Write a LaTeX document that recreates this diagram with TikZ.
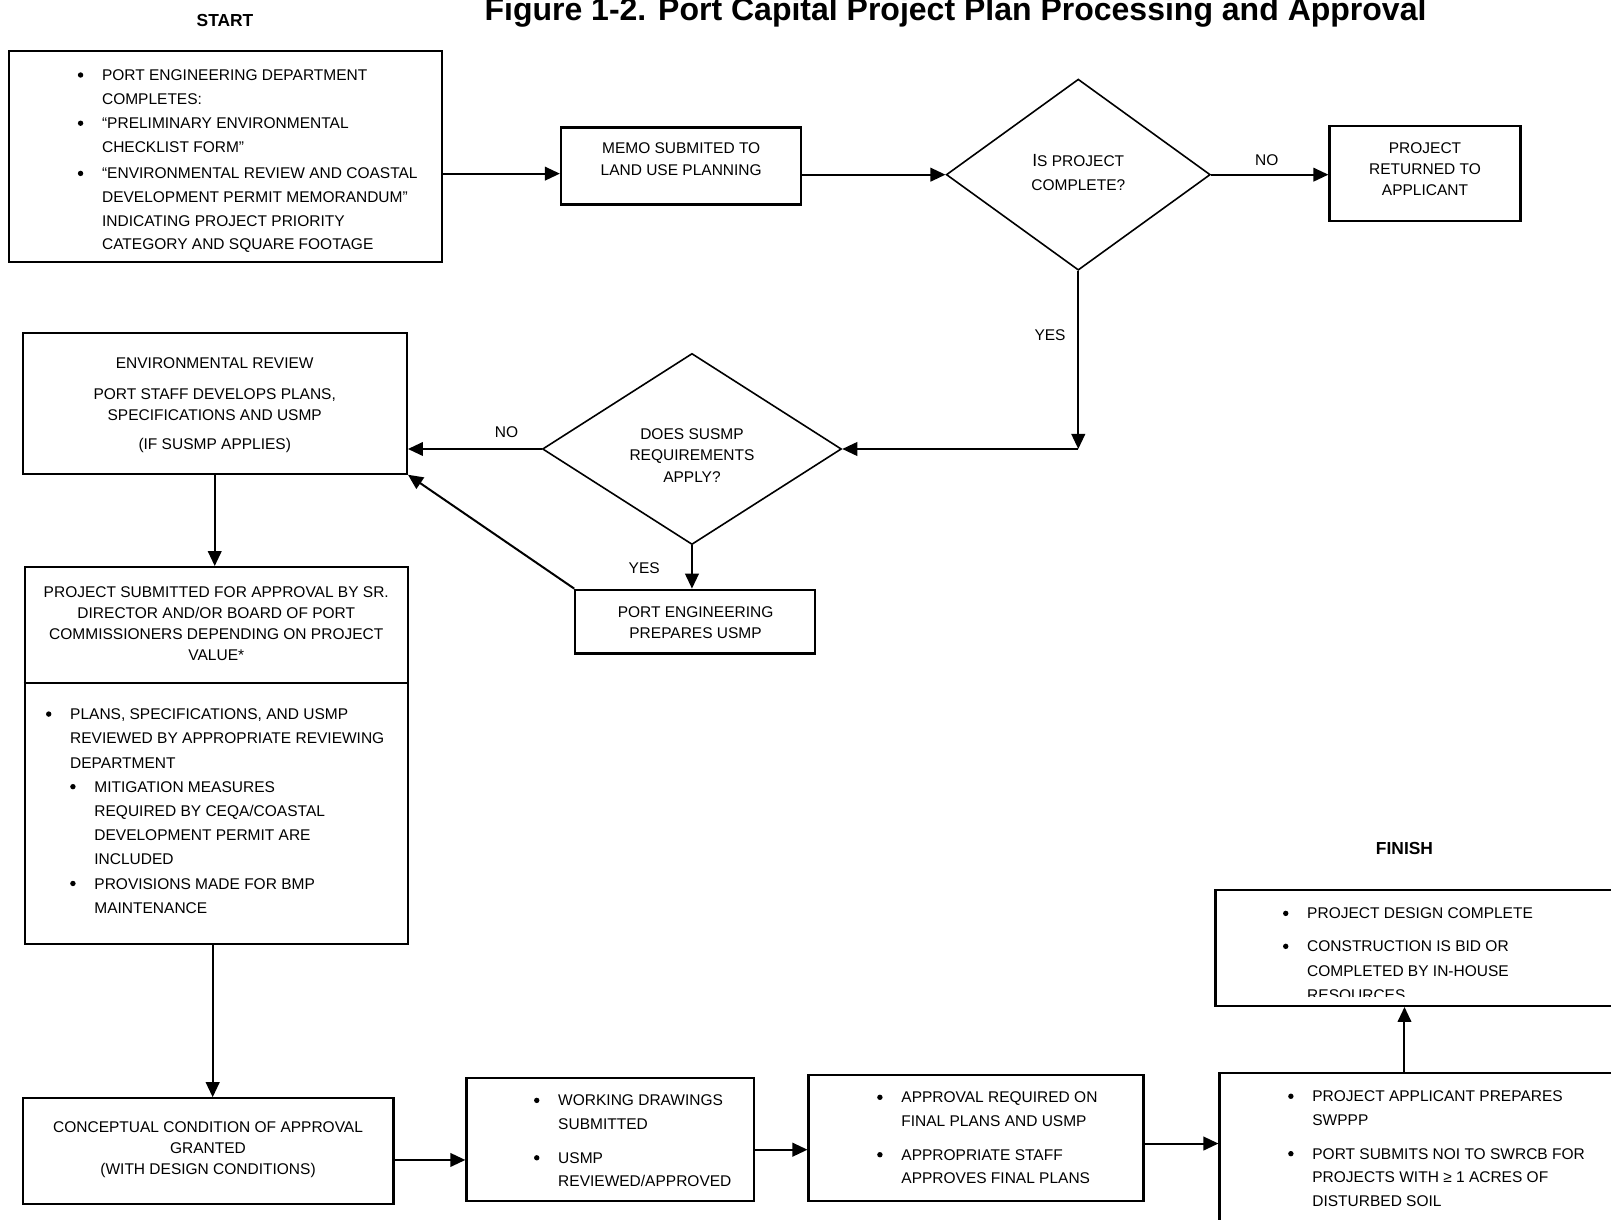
\documentclass[tikz,border=0pt]{standalone}
\usepackage{fontspec}
\setmainfont{Liberation Sans}
\usetikzlibrary{shapes.geometric,arrows.meta,fit}

% round bullet followed by a fixed gap, used in the bulleted boxes
\newcommand\bu{\makebox[12.1pt][l]{\tikz[baseline=-2.77pt]\fill (1.35pt,0pt) circle (1.35pt);}}

\begin{document}
\begin{tikzpicture}[x=0.5137pt,y=-0.5137pt,
  box/.style={draw, line width=1.1pt, inner sep=0pt},
  dia/.style={draw, diamond, line width=0.8pt, inner sep=0pt},
  arr/.style={line width=1pt, -{Triangle[length=7.5pt,width=6.8pt]}},
  txt/.style={inner sep=0pt, font=\fontsize{7.75}{#1}\selectfont},
  txt/.default=11.8pt,
  head/.style={inner sep=0pt, anchor=base, font=\bfseries\fontsize{8.7}{10}\selectfont},
]
\clip (0,0) rectangle (1568,1187);

% ---------- headings ----------
\node[inner sep=0pt, anchor=base, font=\bfseries\fontsize{16}{18}\selectfont] (title) at (930,19.5)
  {Figure 1-2. Port Capital Project Plan Processing and Approval};
\node[head] (start) at (219,26) {START};
\node[head] (finish) at (1367,832) {FINISH};

% ---------- boxes ----------
\node[box, fit={(9,50) (430,255)}] (b1) {};
\node[box, fit={(546,124) (780,199)}] (memo) {};
\node[box, fit={(1294,123) (1480,215)}] (ret) {};
\node[box, fit={(22,324) (396,461)}] (env) {};
\node[box, fit={(560,574) (793,636)}] (pe) {};
\node[box, fit={(24,552) (397,919)}] (sub) {};
\draw[line width=1.1pt] (sub.west |- 0,665) -- (sub.east |- 0,665);
\node[box, fit={(22,1069) (383,1172)}] (concept) {};
\node[box, fit={(454,1049) (734,1169)}] (work) {};
\node[box, fit={(787,1046) (1113,1169)}] (appr) {};
\node[box, fit={(1187,1044) (1620,1240)}] (swp) {};
\node[box, fit={(1183,866) (1620,979)}] (fin) {};

% ---------- decisions ----------
\node[dia, minimum width=257*0.5137pt, minimum height=186*0.5137pt] (d1) at (1049.5,170) {};
\node[dia, minimum width=291*0.5137pt, minimum height=186*0.5137pt] (d2) at (673.5,437) {};

% ---------- texts ----------
\node[txt, anchor=base west] (b1t) at (75.4,78.4) {\begin{tabular}[t]{@{}l@{}l@{}}
\bu & PORT ENGINEERING DEPARTMENT\\
    & COMPLETES:\\[0.5pt]
\bu & “PRELIMINARY ENVIRONMENTAL\\
    & CHECKLIST FORM”\\[1.5pt]
\bu & “ENVIRONMENTAL REVIEW AND COASTAL\\
    & DEVELOPMENT PERMIT MEMORANDUM”\\
    & INDICATING PROJECT PRIORITY\\
    & CATEGORY AND SQUARE FOOTAGE
\end{tabular}};

\node[txt=10.8pt, anchor=base] (memot) at (663,149.4) {\begin{tabular}[t]{@{}c@{}}
MEMO SUBMITED TO\\ LAND USE PLANNING\end{tabular}};

\node[txt=11.8pt, anchor=base] (d1t) at (1049.5,162.4) {\begin{tabular}[t]{@{}c@{}}
{\fontsize{8.8}{11.8}\selectfont I}S PROJECT\\ COMPLETE?\end{tabular}};

\node[txt=10.5pt, anchor=base] (rett) at (1387,149.4) {\begin{tabular}[t]{@{}c@{}}
PROJECT\\ RETURNED TO\\ APPLICANT\end{tabular}};

\node[txt=10.8pt, anchor=base] (d2t) at (673.5,427.4) {\begin{tabular}[t]{@{}c@{}}
DOES SUSMP\\ REQUIREMENTS\\ APPLY?\end{tabular}};

\node[txt=10.8pt, anchor=base] (envt) at (209,358.4) {\begin{tabular}[t]{@{}c@{}}
ENVIRONMENTAL REVIEW\\[4.6pt]
PORT STAFF DEVELOPS PLANS,\\
SPECIFICATIONS AND USMP\\[3.6pt]
(IF SUSMP APPLIES)\end{tabular}};

\node[txt=10.3pt, anchor=base] (pet) at (677,601.4) {\begin{tabular}[t]{@{}c@{}}
PORT ENGINEERING\\ PREPARES USMP\end{tabular}};

\node[txt=10.45pt, anchor=base] (subt) at (210.5,581.4) {\begin{tabular}[t]{@{}c@{}}
PROJECT SUBMITTED FOR APPROVAL BY SR.\\
DIRECTOR AND/OR BOARD OF PORT\\
COMMISSIONERS DEPENDING ON PROJECT\\
VALUE*\end{tabular}};

\node[txt=12.1pt, anchor=base west] (subl) at (44.4,700.4) {\begin{tabular}[t]{@{}l@{}l@{}l@{}}
\bu & \multicolumn{2}{@{}l@{}}{PLANS, SPECIFICATIONS, AND USMP}\\
    & \multicolumn{2}{@{}l@{}}{REVIEWED BY APPROPRIATE REVIEWING}\\
    & \multicolumn{2}{@{}l@{}}{DEPARTMENT}\\
    & \bu & MITIGATION MEASURES\\
    &     & REQUIRED BY CEQA/COASTAL\\
    &     & DEVELOPMENT PERMIT ARE\\
    &     & INCLUDED\\
    & \bu & PROVISIONS MADE FOR BMP\\
    &     & MAINTENANCE
\end{tabular}};

\node[txt=10.5pt, anchor=base] (conceptt) at (202.5,1102.4) {\begin{tabular}[t]{@{}c@{}}
CONCEPTUAL CONDITION OF APPROVAL\\ GRANTED\\ (WITH DESIGN CONDITIONS)\end{tabular}};

\node[txt=11.8pt, anchor=base west] (workt) at (519.4,1076.4) {\begin{tabular}[t]{@{}l@{}l@{}}
\bu & WORKING DRAWINGS\\
    & SUBMITTED\\[5.1pt]
\bu & USMP\\
    & REVIEWED/APPROVED
\end{tabular}};

\node[txt=11.8pt, anchor=base west] (apprt) at (853.4,1073.4) {\begin{tabular}[t]{@{}l@{}l@{}}
\bu & APPROVAL REQUIRED ON\\
    & FINAL PLANS AND USMP\\[5.1pt]
\bu & APPROPRIATE STAFF\\
    & APPROVES FINAL PLANS
\end{tabular}};

\node[txt=11.8pt, anchor=base west] (swpt) at (1253.4,1072.4) {\begin{tabular}[t]{@{}l@{}l@{}}
\bu & PROJECT APPLICANT PREPARES\\
    & SWPPP\\[5.1pt]
\bu & PORT SUBMITS NOI TO SWRCB FOR\\
    & PROJECTS WITH ≥ 1 ACRES OF\\
    & DISTURBED SOIL
\end{tabular}};

\begin{scope}
  \clip (1183,860) rectangle (1568,970);
  \node[txt=12.07pt, anchor=base west] (fint) at (1248.4,894.4) {\begin{tabular}[t]{@{}l@{}l@{}}
  \bu & PROJECT DESIGN COMPLETE\\[4.4pt]
  \bu & CONSTRUCTION IS BID OR\\
      & COMPLETED BY IN-HOUSE\\
      & RESOURCES
  \end{tabular}};
\end{scope}

% ---------- branch labels ----------
\node[txt, anchor=base] (no1) at (1233,161.4) {NO};
\node[txt, anchor=base] (yes1) at (1022,331.4) {YES};
\node[txt, anchor=base] (no2) at (493,425.4) {NO};
\node[txt, anchor=base] (yes2) at (627,558.4) {YES};

% ---------- connectors ----------
\coordinate (j) at (1049.5,437);
\draw[arr] (b1.east |- 0,169) -- (memo.west |- 0,169);
\draw[arr] (memo.east |- d1.west) -- (d1.west);
\draw[arr] (d1.east) -- (ret.west |- d1.east);
\draw[arr] (d1.south) -- (j);
\draw[arr] (j) -- (d2.east);
\draw[arr] (d2.west) -- (env.east |- d2.west);
\draw[arr] (d2.south) -- (d2.south |- pe.north);
\draw[arr] (pe.north west) -- (env.south east);
\draw[arr] (env.south) -- (env.south |- sub.north);
\draw[arr] (sub.south -| 207,0) -- (concept.north -| 207,0);
\draw[arr] (concept.east |- 0,1129) -- (work.west |- 0,1129);
\draw[arr] (work.east |- 0,1119) -- (appr.west |- 0,1119);
\draw[arr] (appr.east |- 0,1113) -- (swp.west |- 0,1113);
\draw[arr] (swp.north -| 1367,0) -- (fin.south -| 1367,0);
\end{tikzpicture}
\end{document}
